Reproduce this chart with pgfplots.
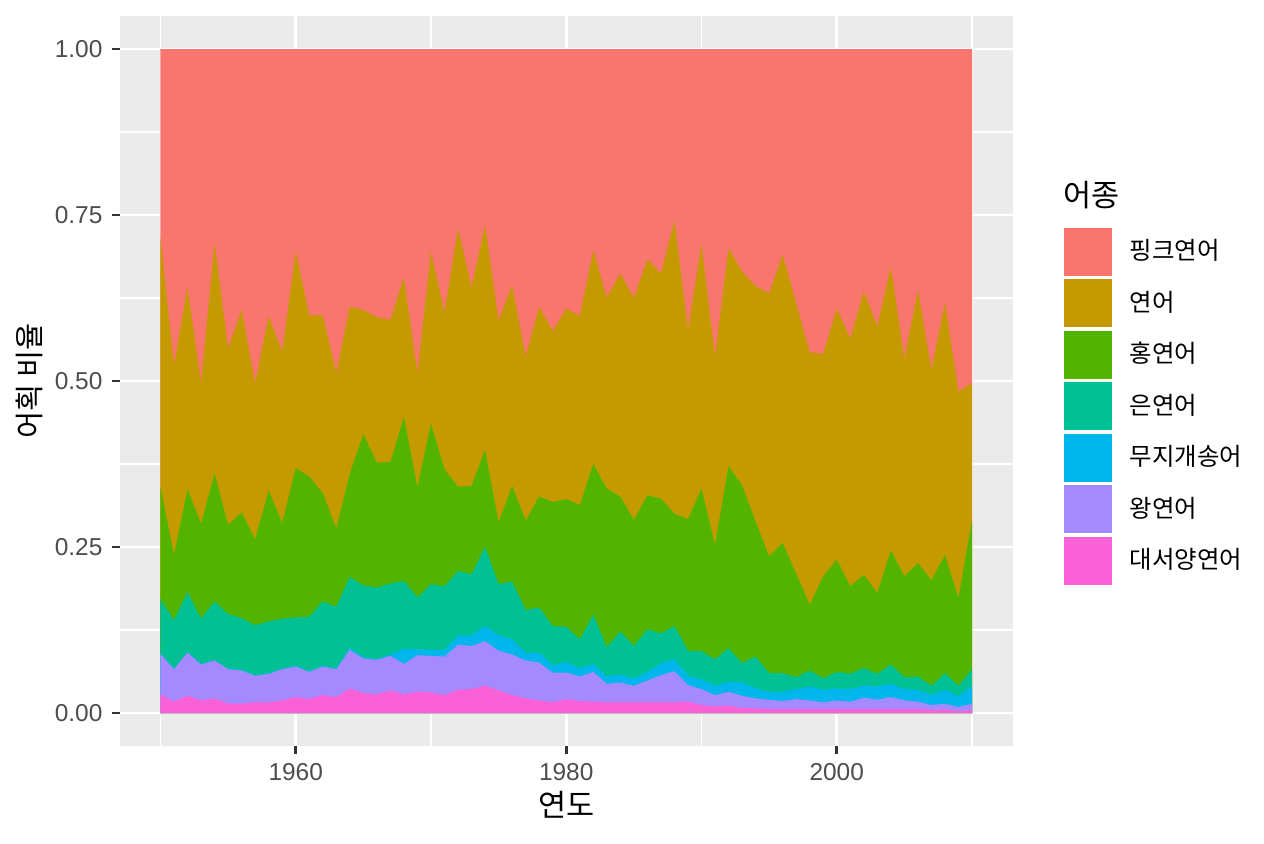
\documentclass[border=0pt]{standalone}
\usepackage{pgfplots}
\usepackage{pgfplotstable}
\pgfplotsset{compat=1.18}
\usepackage{fontspec}
\setmainfont{Noto Sans CJK KR}
\newfontfamily\numfont{Liberation Sans}
\definecolor{cA}{HTML}{F8766D}
\definecolor{cB}{HTML}{C49A00}
\definecolor{cC}{HTML}{53B400}
\definecolor{cD}{HTML}{00C094}
\definecolor{cE}{HTML}{00B6EB}
\definecolor{cF}{HTML}{A58AFF}
\definecolor{cG}{HTML}{FB61D7}
\definecolor{panelgrey}{HTML}{EBEBEB}
\definecolor{tickgrey}{HTML}{333333}
\definecolor{labgrey}{HTML}{4D4D4D}
% cumulative upper boundaries of each stacked area
\pgfplotstableread{
year a b c d e f g
1950 1 0.715 0.341 0.171 0.090 0.089 0.028
1951 1 0.524 0.238 0.140 0.067 0.066 0.017
1952 1 0.641 0.337 0.182 0.092 0.091 0.026
1953 1 0.497 0.285 0.142 0.074 0.073 0.019
1954 1 0.708 0.361 0.168 0.080 0.079 0.022
1955 1 0.549 0.283 0.149 0.067 0.066 0.014
1956 1 0.607 0.302 0.143 0.065 0.064 0.014
1957 1 0.497 0.262 0.132 0.057 0.056 0.016
1958 1 0.598 0.335 0.138 0.060 0.059 0.016
1959 1 0.544 0.286 0.142 0.067 0.066 0.019
1960 1 0.695 0.369 0.144 0.071 0.070 0.024
1961 1 0.599 0.356 0.145 0.063 0.062 0.021
1962 1 0.599 0.331 0.168 0.071 0.070 0.027
1963 1 0.512 0.278 0.160 0.067 0.066 0.024
1964 1 0.612 0.361 0.205 0.099 0.095 0.037
1965 1 0.607 0.420 0.192 0.084 0.082 0.030
1966 1 0.596 0.377 0.189 0.081 0.080 0.028
1967 1 0.592 0.378 0.195 0.088 0.086 0.034
1968 1 0.656 0.446 0.199 0.097 0.074 0.028
1969 1 0.511 0.340 0.174 0.096 0.087 0.032
1970 1 0.695 0.436 0.194 0.095 0.086 0.031
1971 1 0.603 0.367 0.191 0.095 0.085 0.027
1972 1 0.730 0.341 0.214 0.117 0.103 0.035
1973 1 0.641 0.342 0.209 0.117 0.101 0.036
1974 1 0.735 0.396 0.250 0.131 0.108 0.041
1975 1 0.591 0.287 0.194 0.117 0.094 0.034
1976 1 0.644 0.342 0.198 0.111 0.088 0.027
1977 1 0.537 0.290 0.155 0.091 0.079 0.022
1978 1 0.612 0.326 0.159 0.091 0.076 0.019
1979 1 0.575 0.318 0.131 0.072 0.061 0.016
1980 1 0.609 0.322 0.130 0.077 0.061 0.021
1981 1 0.598 0.313 0.111 0.067 0.055 0.018
1982 1 0.696 0.375 0.148 0.074 0.062 0.017
1983 1 0.626 0.338 0.099 0.055 0.044 0.016
1984 1 0.662 0.326 0.123 0.058 0.046 0.016
1985 1 0.625 0.291 0.101 0.052 0.041 0.016
1986 1 0.683 0.328 0.126 0.062 0.049 0.016
1987 1 0.662 0.323 0.120 0.075 0.057 0.016
1988 1 0.741 0.300 0.131 0.081 0.063 0.016
1989 1 0.577 0.292 0.094 0.056 0.042 0.017
1990 1 0.706 0.338 0.093 0.051 0.036 0.012
1991 1 0.537 0.253 0.081 0.041 0.027 0.010
1992 1 0.700 0.372 0.098 0.047 0.032 0.011
1993 1 0.665 0.343 0.075 0.046 0.026 0.008
1994 1 0.643 0.288 0.085 0.037 0.022 0.007
1995 1 0.632 0.236 0.060 0.032 0.020 0.006
1996 1 0.690 0.256 0.060 0.032 0.018 0.006
1997 1 0.617 0.210 0.054 0.036 0.021 0.006
1998 1 0.543 0.163 0.064 0.040 0.019 0.006
1999 1 0.541 0.206 0.052 0.035 0.016 0.006
2000 1 0.609 0.231 0.062 0.037 0.019 0.006
2001 1 0.564 0.191 0.059 0.036 0.017 0.006
2002 1 0.635 0.208 0.068 0.041 0.023 0.006
2003 1 0.582 0.181 0.059 0.040 0.020 0.006
2004 1 0.672 0.245 0.073 0.044 0.024 0.006
2005 1 0.533 0.206 0.054 0.036 0.019 0.006
2006 1 0.637 0.226 0.055 0.035 0.017 0.006
2007 1 0.517 0.200 0.041 0.027 0.012 0.005
2008 1 0.618 0.238 0.060 0.035 0.014 0.005
2009 1 0.484 0.173 0.041 0.025 0.009 0.003
2010 1 0.497 0.291 0.066 0.041 0.014 0.004
}\data
\begin{document}
\begin{tikzpicture}
\useasboundingbox (0,0) rectangle (455.04pt,303.48pt);
\begin{axis}[
  at={(43.16pt,34.85pt)}, anchor=south west,
  scale only axis, width=321.37pt, height=262.94pt,
  xmin=1947, xmax=2013, ymin=-0.05, ymax=1.05,
  axis background/.style={fill=panelgrey},
  axis line style={draw=none},
  tick pos=left, tick align=outside,
  major tick length=2.75pt, minor tick length=0pt,
  major tick style={draw=tickgrey, line width=1pt},
  xtick={1960,1980,2000}, xticklabels={1960,1980,2000},
  minor xtick={1950,1970,1990,2010},
  ytick={0,0.25,0.5,0.75,1}, yticklabels={0.00,0.25,0.50,0.75,1.00},
  minor ytick={0.125,0.375,0.625,0.875},
  grid=both,
  major grid style={white, line width=1pt},
  minor grid style={white, line width=0.5pt},
  /pgf/number format/assume math mode=true,
  ticklabel style={font=\numfont\fontsize{8.8}{10}\selectfont, text=labgrey},
  xlabel={연도}, ylabel={어획 비율},
  xlabel style={at={(axis description cs:0.5,-0.0805)}, anchor=center, font=\fontsize{11}{13}\selectfont},
  ylabel style={at={(axis description cs:-0.101,0.5)}, anchor=center, font=\fontsize{10.6}{13}\selectfont},
  legend cell align=left,
  legend image code/.code={\fill[#1] (0pt,-8.64pt) rectangle (17.28pt,8.64pt);},
  legend style={at={(axis description cs:1.0565,0.7108)}, anchor=north west,
    draw=none, fill=none, inner sep=0pt, row sep=1.26pt, column sep=6.48pt,
    nodes={inner sep=0pt}, font=\fontsize{8.8}{10}\selectfont},
]
\addplot[fill=cA, draw=none] table[x=year, y=a] {\data} \closedcycle;
\addlegendentry{핑크연어}
\addplot[fill=cB, draw=none] table[x=year, y=b] {\data} \closedcycle;
\addlegendentry{연어}
\addplot[fill=cC, draw=none] table[x=year, y=c] {\data} \closedcycle;
\addlegendentry{홍연어}
\addplot[fill=cD, draw=none] table[x=year, y=d] {\data} \closedcycle;
\addlegendentry{은연어}
\addplot[fill=cE, draw=none] table[x=year, y=e] {\data} \closedcycle;
\addlegendentry{무지개송어}
\addplot[fill=cF, draw=none] table[x=year, y=f] {\data} \closedcycle;
\addlegendentry{왕연어}
\addplot[fill=cG, draw=none] table[x=year, y=g] {\data} \closedcycle;
\addlegendentry{대서양연어}
\end{axis}
\node[anchor=west, font=\fontsize{11}{13}\selectfont, inner sep=0pt] at (382.7pt,233.3pt) {어종};
\end{tikzpicture}
\end{document}
